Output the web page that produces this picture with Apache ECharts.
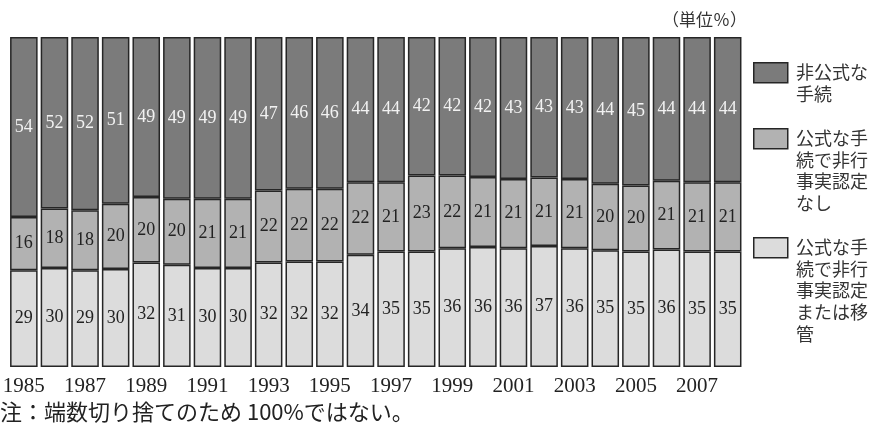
<!DOCTYPE html>
<html>
<head>
<meta charset="utf-8">
<script src="https://cdn.jsdelivr.net/npm/echarts@6/dist/echarts.min.js"></script>
<style>
html,body{margin:0;padding:0;background:#fff;}
#c{width:869px;height:432px;}
</style>
</head>
<body>
<div id="c"></div>
<script>
const years = ['1985','1986','1987','1988','1989','1990','1991','1992','1993','1994','1995','1996','1997','1998','1999','2000','2001','2002','2003','2004','2005','2006','2007','2008'];
const informal = [54,52,52,51,49,49,49,49,47,46,46,44,44,42,42,42,43,43,43,44,45,44,44,44];
const formalNoFinding = [16,18,18,20,20,20,21,21,22,22,22,22,21,23,22,21,21,21,21,20,20,21,21,21];
const formalFinding = [29,30,29,30,32,31,30,30,32,32,32,34,35,35,36,36,36,37,36,35,35,36,35,35];
const seriesNames = ['公式な手続で非行事実認定または移管','公式な手続で非行事実認定なし','非公式な手続'];
const legendLines = [['非公式な','手続'],['公式な手','続で非行','事実認定','なし'],['公式な手','続で非行','事実認定','または移','管']];
const unitText = '（単位％）';
const noteText = '注：端数切り捨てのため 100%ではない。';

const colors = ['#dcdcdc','#b2b2b2','#7b7b7b'];
const raw = [formalFinding, formalNoFinding, informal];
const totals = years.map((y,i)=>raw[0][i]+raw[1][i]+raw[2][i]);

function mkData(arr){
  return arr.map((v,i)=>({value: v*100/totals[i], raw: v}));
}

const series = raw.map((arr,k)=>({
  name: seriesNames[k],
  type: 'bar',
  stack: 'all',
  barCategoryGap: '10%',
  data: mkData(arr),
  itemStyle: {color: colors[k], borderColor: '#262626', borderWidth: 1.5},
  label: {
    show: true,
    position: 'inside',
    formatter: p => String(p.data.raw),
    fontFamily: '"Liberation Serif", "DejaVu Serif", serif',
    fontSize: 18,
    fontWeight: 'normal',
    overflow: 'none',
    color: k===2 ? '#f2f2f2' : '#222'
  },
  emphasis: {disabled: true}
}));

const legendTop = [62, 128, 237];
const graphics = [];
[2,1,0].forEach((k,j)=>{
  const t = legendTop[j];
  graphics.push({type:'rect', left:753, top:t, shape:{width:34,height:20}, style:{fill:colors[k], stroke:'#262626', lineWidth:1.5}});
  legendLines[j].forEach((ln,m)=>{
    graphics.push({type:'text', left:796, top:t + 1 + m*21.7, style:{text:ln, font:'18px "Noto Sans CJK JP"', fill:'#333'}});
  });
});
graphics.push({type:'text', right:122, top:11, style:{text:unitText, font:'17px "Noto Sans CJK JP"', fill:'#333'}});
graphics.push({type:'text', left:0, top:401, style:{text:noteText, font:'22px "Noto Sans CJK JP"', fill:'#222'}});

const chart = echarts.init(document.getElementById('c'));
chart.setOption({
  animation: false,
  grid: {left: 1, right: 126, top: 37, bottom: 65},
  xAxis: {
    type: 'category',
    data: years,
    axisLine: {show: false},
    axisTick: {show: false},
    axisLabel: {interval: 1, fontFamily: '"Liberation Serif"', fontSize: 21, color: '#222', margin: 9}
  },
  yAxis: {type: 'value', min: 0, max: 100, show: false},
  series: series,
  graphic: graphics
});
</script>
</body>
</html>
